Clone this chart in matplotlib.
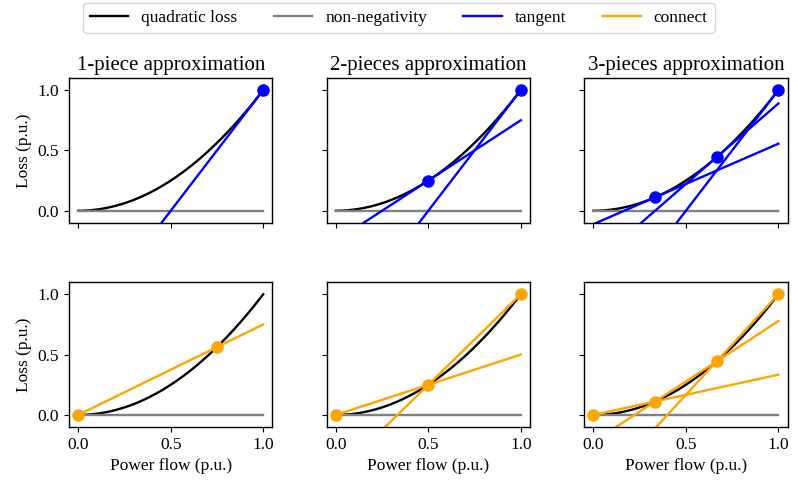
import numpy as np
import matplotlib
matplotlib.use("Agg")
import matplotlib.pyplot as plt

plt.rcParams['font.family'] = ['Liberation Serif', 'DejaVu Serif']
plt.rcParams['mathtext.fontset'] = 'stix'

titles = ['1-piece approximation', '2-pieces approximation', '3-pieces approximation']
# tangent points (top row) and breakpoints (bottom row)
tangent_pts = [[1.0], [0.5, 1.0], [1/3, 2/3, 1.0]]
connect_pts = [[0.0, 0.75], [0.0, 0.5, 1.0], [0.0, 1/3, 2/3, 1.0]]
xticks = [0.0, 0.5, 1.0]
yticks = [0.0, 0.5, 1.0]

x = np.linspace(0, 1, 200)

fig, axes = plt.subplots(2, 3, figsize=(7.98, 4.86), dpi=100, sharex=True, sharey=True)
fig.subplots_adjust(left=0.0865, right=0.987, top=0.8395, bottom=0.1214, wspace=0.266, hspace=0.41)

lw = 1.7
fs = 12.5
for j in range(3):
    ax = axes[0, j]
    ax.plot(x, x**2, color='black', lw=lw, label='quadratic loss')
    ax.plot(x, 0*x, color='gray', lw=lw, label='non-negativity')
    for k, p in enumerate(tangent_pts[j]):
        ax.plot(x, 2*p*x - p**2, color='blue', lw=lw, label='tangent' if k == 0 else None)
        ax.plot(p, p**2, 'o', color='blue', ms=8)
    ax.set_title(titles[j], fontsize=15)

    ax = axes[1, j]
    ax.plot(x, x**2, color='black', lw=lw)
    ax.plot(x, 0*x, color='gray', lw=lw)
    pts = connect_pts[j]
    for k in range(len(pts) - 1):
        a, b = pts[k], pts[k+1]
        slope = (b**2 - a**2) / (b - a)
        ax.plot(x, a**2 + slope*(x - a), color='orange', lw=lw, label='connect' if (j == 0 and k == 0) else None)
    for p in pts:
        ax.plot(p, p**2, 'o', color='orange', ms=8)
    ax.set_xlabel('Power flow (p.u.)', fontsize=fs)

for ax in axes.flat:
    ax.set_xlim(-0.05, 1.05)
    ax.set_ylim(-0.1, 1.1)
    ax.set_xticks(xticks)
    ax.set_yticks(yticks)
    ax.tick_params(labelsize=fs)
    for s in ax.spines.values():
        s.set_linewidth(1.0)
for i in range(2):
    axes[i, 0].set_ylabel('Loss (p.u.)', fontsize=fs)

h1, l1 = axes[0, 0].get_legend_handles_labels()
h2, l2 = axes[1, 0].get_legend_handles_labels()
fig.legend(h1 + h2, l1 + l2, loc='upper center', ncol=4, bbox_to_anchor=(0.5, 1.012),
           fontsize=fs, handlelength=2.2, handletextpad=0.75, columnspacing=2.1)

fig.savefig('out.png', dpi=100)
